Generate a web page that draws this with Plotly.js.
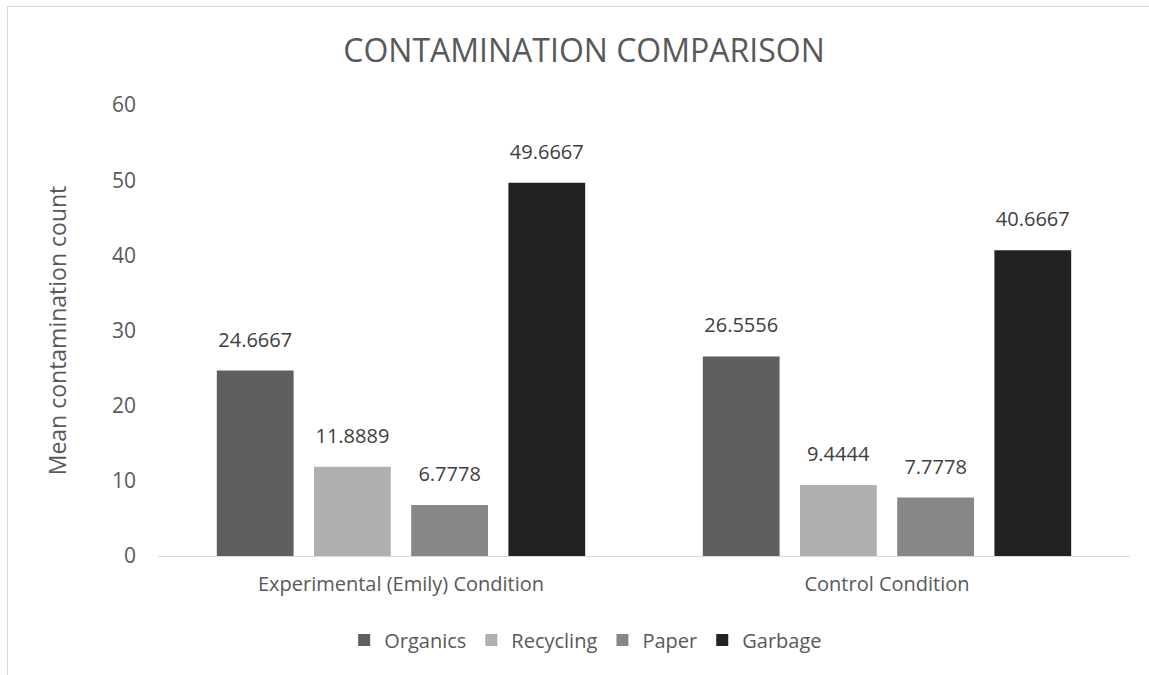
<!DOCTYPE html>
<html><head><meta charset="utf-8">
<script src="https://cdn.plot.ly/plotly-3.0.1.min.js"></script>
<style>
html,body{margin:0;padding:0;background:#fff;}
#wrap{position:relative;width:1149px;height:675px;}
#chart{position:absolute;left:0;top:0;width:1149px;height:675px;}
#frame{position:absolute;left:7px;top:6px;width:1142px;height:669px;border-top:1px solid #d9d9d9;border-left:1px solid #d9d9d9;pointer-events:none;}
</style></head>
<body><div id="wrap"><div id="chart"></div><div id="frame"></div></div>
<script>
const categories = ["Experimental (Emily) Condition", "Control Condition"];
const organics = [24.6667, 26.5556];
const recycling = [11.8889, 9.4444];
const paper = [6.7778, 7.7778];
const garbage = [49.6667, 40.6667];
const seriesNames = ["Organics", "Recycling", "Paper", "Garbage"];
const colors = ["#5f5f5f", "#b0b0b0", "#878787", "#222222"];
const yTicks = [0, 10, 20, 30, 40, 50, 60];

const txtColor = "#595959";
const fontFam = "'Open Sans', 'Noto Sans', sans-serif";
const allVals = [organics, recycling, paper, garbage];
const traces = allVals.map((v, i) => ({
  type: "bar",
  name: seriesNames[i],
  x: categories,
  y: v,
  marker: {color: colors[i], line: {width: 0}},
  text: v.map(n => n.toFixed(4)),
  texttemplate: "%{text}",
  textposition: "outside",
  cliponaxis: false,
  textfont: {family: fontFam, size: 20, color: "#404040"},
  hoverinfo: "none"
}));

const layout = {
  width: 1149, height: 675,
  margin: {l: 158, r: 19, t: 105, b: 119},
  paper_bgcolor: "#ffffff", plot_bgcolor: "#ffffff",
  font: {family: fontFam, color: txtColor},
  title: {text: "CONTAMINATION COMPARISON", font: {family: fontFam, size: 32, color: txtColor},
          x: 584/1149, xref: "container", xanchor: "center", y: 1 - 51/675, yref: "container", yanchor: "middle"},
  barmode: "group",
  bargap: 0.2,
  bargroupgap: 0.21,
  showlegend: true,
  legend: {orientation: "h", x: 0.44, xanchor: "center", y: -0.186, yanchor: "middle",
           font: {family: fontFam, size: 20, color: txtColor}, itemwidth: 30, traceorder: "normal"},
  xaxis: {type: "category", showgrid: false, showline: true, linecolor: "#d9d9d9", linewidth: 1,
          ticks: "", ticklabelstandoff: 10, tickfont: {family: fontFam, size: 20, color: txtColor}, zeroline: false},
  yaxis: {range: [0, 60], tickvals: yTicks, showgrid: false, showline: false, zeroline: false, ticks: "",
          ticklabelstandoff: 21, tickfont: {family: fontFam, size: 21, color: txtColor},
          title: {text: "Mean contamination count", font: {family: fontFam, size: 23, color: txtColor}, standoff: 38}}
};
Plotly.newPlot("chart", traces, layout, {displayModeBar: false, staticPlot: true}).then(() => {
  document.querySelectorAll("#chart .bartext").forEach(t => {
    const tr = t.getAttribute("transform") || "";
    t.setAttribute("transform", "translate(0,-15) " + tr);
  });
});
</script></body></html>
